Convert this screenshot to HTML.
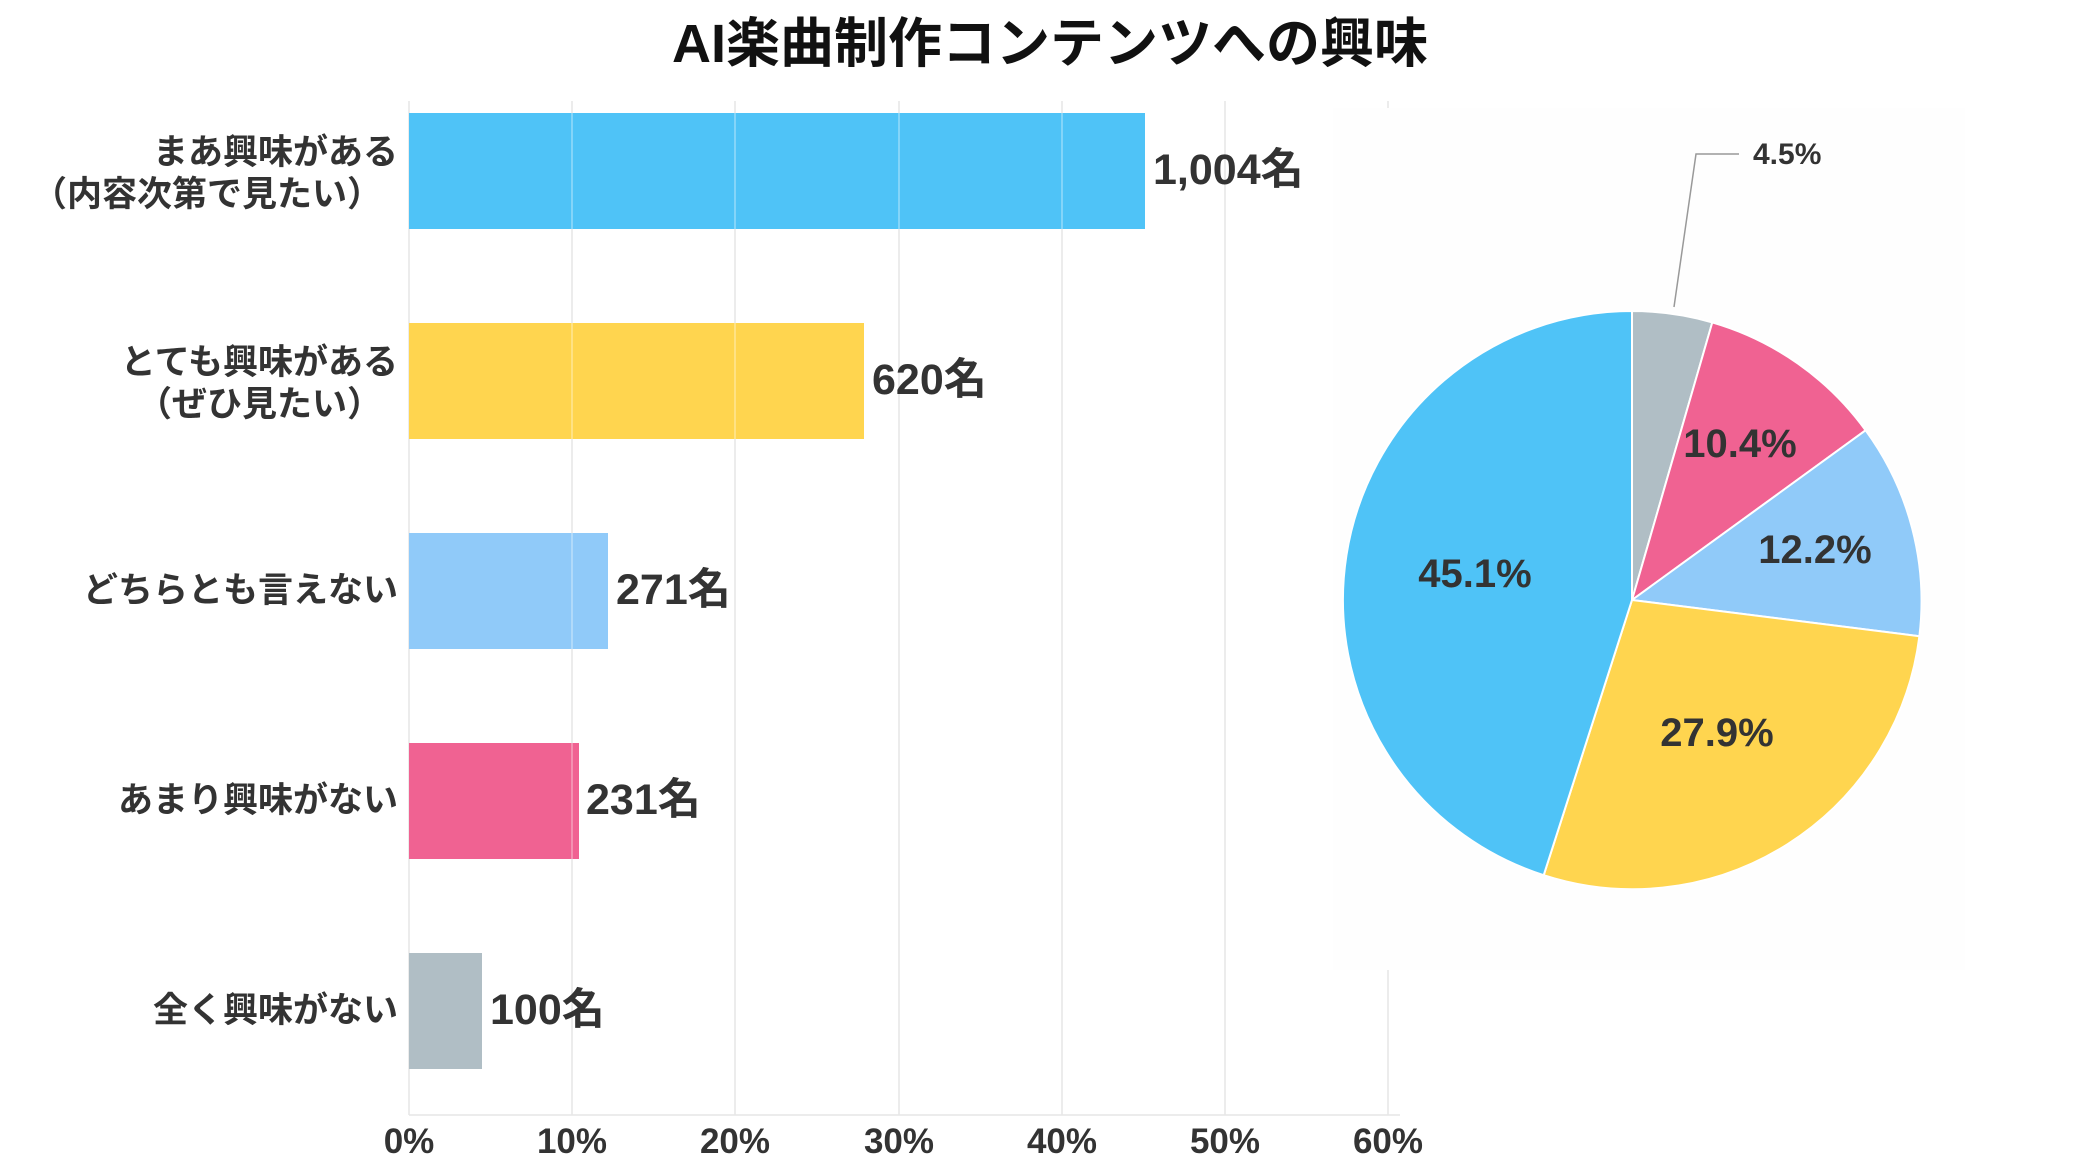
<!DOCTYPE html>
<html><head><meta charset="utf-8"><style>
body{margin:0;background:#fff;}
svg text{font-family:"Liberation Sans","Noto Sans CJK JP",sans-serif;font-weight:bold;fill:#333;}
</style></head><body>
<svg width="2100" height="1168" viewBox="0 0 2100 1168" xmlns="http://www.w3.org/2000/svg">
<text x="1050" y="62" font-size="54" text-anchor="middle" fill="#111" style="fill:#111">AI楽曲制作コンテンツへの興味</text>
<g stroke="#e6e6e6" stroke-width="1.5">
<line x1="409" y1="101" x2="409" y2="1115"/>
<line x1="572" y1="101" x2="572" y2="1115"/>
<line x1="735" y1="101" x2="735" y2="1115"/>
<line x1="899" y1="101" x2="899" y2="1115"/>
<line x1="1062" y1="101" x2="1062" y2="1115"/>
<line x1="1225" y1="101" x2="1225" y2="1115"/>
<line x1="1388" y1="101" x2="1388" y2="1115"/>
<line x1="409" y1="1115" x2="1400" y2="1115"/>
</g>
<rect x="1333" y="108" width="632" height="862" fill="#fefefe"/>
<rect x="409" y="113" width="736" height="116" fill="#4fc3f7"/>
<rect x="409" y="323" width="455" height="116" fill="#ffd54f"/>
<rect x="409" y="533" width="199" height="116" fill="#90caf9"/>
<rect x="409" y="743" width="170" height="116" fill="#f06292"/>
<rect x="409" y="953" width="73" height="116" fill="#b0bec5"/>
<g stroke="#fff" stroke-width="1" opacity="0.6">
<line x1="572" y1="113" x2="572" y2="229"/><line x1="735" y1="113" x2="735" y2="229"/><line x1="899" y1="113" x2="899" y2="229"/><line x1="1062" y1="113" x2="1062" y2="229"/>
<line x1="572" y1="323" x2="572" y2="439"/><line x1="735" y1="323" x2="735" y2="439"/>
<line x1="572" y1="533" x2="572" y2="649"/>
<line x1="572" y1="743" x2="572" y2="859"/>
</g>
<g font-size="43">
<text x="1153" y="184">1,004名</text>
<text x="872" y="394">620名</text>
<text x="616" y="604">271名</text>
<text x="586" y="814">231名</text>
<text x="490" y="1024">100名</text>
</g>
<g font-size="35" text-anchor="end">
<text x="398" y="164">まあ興味がある</text>
<text x="382" y="206">（内容次第で見たい）</text>
<text x="398" y="374">とても興味がある</text>
<text x="382" y="416">（ぜひ見たい）</text>
<text x="398" y="602">どちらとも言えない</text>
<text x="398" y="812">あまり興味がない</text>
<text x="398" y="1022">全く興味がない</text>
</g>
<g font-size="35" text-anchor="middle">
<text x="409" y="1153">0%</text><text x="572" y="1153">10%</text><text x="735" y="1153">20%</text><text x="899" y="1153">30%</text><text x="1062" y="1153">40%</text><text x="1225" y="1153">50%</text><text x="1388" y="1153">60%</text>
</g>
<g transform="translate(-7,-3)">
<g stroke="#fff" stroke-width="2">
<path d="M1639,603 L1639,314 A289,289 0 0,1 1719.3,325.4 Z" fill="#b0bec5"/>
<path d="M1639,603 L1719.3,325.4 A289,289 0 0,1 1872.6,433.3 Z" fill="#f06292"/>
<path d="M1639,603 L1872.6,433.3 A289,289 0 0,1 1926.4,639.2 Z" fill="#90caf9"/>
<path d="M1639,603 L1926.4,639.2 A289,289 0 0,1 1550.7,878.2 Z" fill="#ffd54f"/>
<path d="M1639,603 L1550.7,878.2 A289,289 0 0,1 1639,314 Z" fill="#4fc3f7"/>
</g>
<polyline points="1681,310 1703,157 1746,157" fill="none" stroke="#999" stroke-width="1.5"/>
<g font-size="40" text-anchor="middle" style="fill:#222">
<text x="1747" y="460">10.4%</text>
<text x="1822" y="566">12.2%</text>
<text x="1724" y="749">27.9%</text>
<text x="1482" y="590">45.1%</text>
</g>
<text x="1760" y="167" font-size="30">4.5%</text>
</g>
</svg>
</body></html>
